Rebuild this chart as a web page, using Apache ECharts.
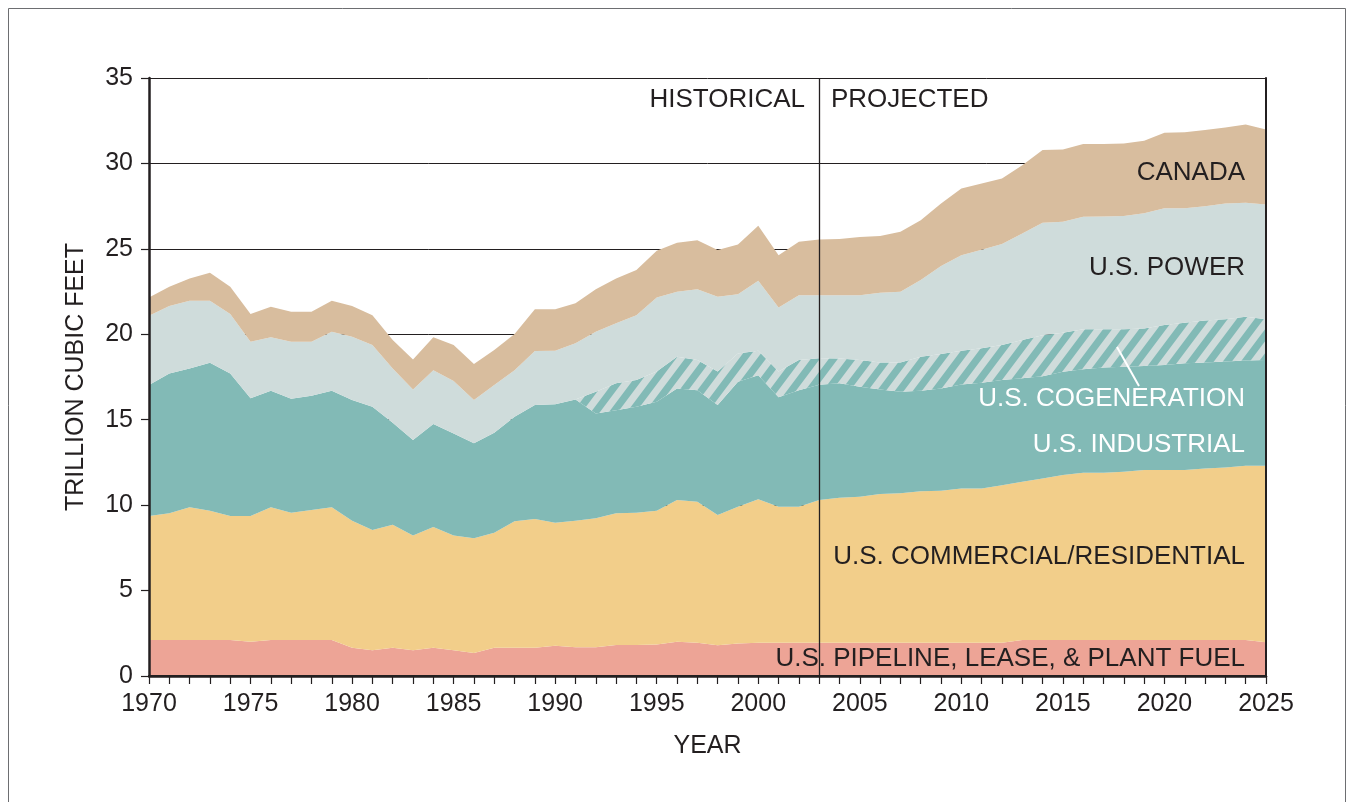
<!DOCTYPE html>
<html>
<head>
<meta charset="utf-8">
<title>Natural gas demand</title>
<script src="https://cdn.jsdelivr.net/npm/echarts@6/dist/echarts.min.js"></script>
<style>
  html, body { margin: 0; padding: 0; background: #fff; }
  #chart { width: 1353px; height: 802px; }
</style>
</head>
<body>
<div id="chart"></div>
<script>
// years on the x axis
const years = ['1970', '1971', '1972', '1973', '1974', '1975', '1976', '1977', '1978', '1979',
  '1980', '1981', '1982', '1983', '1984', '1985', '1986', '1987', '1988', '1989',
  '1990', '1991', '1992', '1993', '1994', '1995', '1996', '1997', '1998', '1999',
  '2000', '2001', '2002', '2003', '2004', '2005', '2006', '2007', '2008', '2009',
  '2010', '2011', '2012', '2013', '2014', '2015', '2016', '2017', '2018', '2019',
  '2020', '2021', '2022', '2023', '2024', '2025'];

// trillion cubic feet, each layer on its own (stacked bottom to top)
const pipelineFuel = [2.1, 2.1, 2.1, 2.1, 2.1, 2.0, 2.1, 2.1, 2.1, 2.1,
  1.65, 1.5, 1.65, 1.5, 1.65, 1.5, 1.35, 1.65, 1.65, 1.65,
  1.77, 1.68, 1.68, 1.81, 1.81, 1.85, 2.0, 1.95, 1.8, 1.9,
  1.95, 1.95, 1.95, 1.95, 1.95, 1.95, 1.95, 1.95, 1.95, 1.95,
  1.95, 1.95, 1.95, 2.1, 2.1, 2.1, 2.1, 2.1, 2.1, 2.1,
  2.1, 2.1, 2.1, 2.1, 2.1, 1.97];
const commercialResidential = [7.26, 7.42, 7.77, 7.57, 7.26, 7.36, 7.77, 7.46, 7.61, 7.77,
  7.44, 7.04, 7.2, 6.73, 7.07, 6.73, 6.71, 6.74, 7.4, 7.54,
  7.2, 7.41, 7.55, 7.71, 7.75, 7.82, 8.3, 8.25, 7.62, 8.01,
  8.39, 7.96, 7.96, 8.35, 8.48, 8.54, 8.7, 8.74, 8.87, 8.89,
  9.03, 9.03, 9.22, 9.27, 9.46, 9.66, 9.8, 9.8, 9.86, 9.95,
  9.95, 9.95, 10.05, 10.1, 10.21, 10.34];
const industrial = [7.67, 8.19, 8.13, 8.67, 8.35, 6.89, 6.83, 6.67, 6.69, 6.83,
  7.06, 7.22, 5.97, 5.58, 6.03, 5.97, 5.56, 5.85, 6.12, 6.67,
  6.93, 7.1, 6.14, 6.04, 6.2, 6.38, 6.53, 6.53, 6.44, 7.31,
  7.26, 6.4, 6.82, 6.75, 6.7, 6.44, 6.12, 5.95, 5.88, 5.99,
  6.08, 6.18, 6.15, 6.05, 5.99, 6.05, 6.05, 6.15, 6.14, 6.09,
  6.15, 6.25, 6.2, 6.2, 6.16, 6.18];
const cogeneration = [0, 0, 0, 0, 0, 0, 0, 0, 0, 0,
  0, 0, 0, 0, 0, 0, 0, 0, 0, 0,
  0, 0, 1.27, 1.57, 1.56, 1.77, 1.86, 1.76, 1.96, 1.66,
  1.44, 1.51, 1.76, 1.55, 1.46, 1.56, 1.58, 1.71, 1.99, 2.01,
  1.98, 2.02, 2.05, 2.24, 2.4, 2.28, 2.34, 2.25, 2.19, 2.2,
  2.34, 2.38, 2.45, 2.48, 2.56, 2.39];
const power = [4.05, 3.94, 3.96, 3.62, 3.47, 3.31, 3.12, 3.33, 3.16, 3.45,
  3.71, 3.61, 3.18, 2.96, 3.15, 3.06, 2.53, 2.79, 2.73, 3.16,
  3.14, 3.28, 3.51, 3.51, 3.8, 4.34, 3.8, 4.14, 4.38, 3.46,
  4.09, 3.75, 3.8, 3.69, 3.7, 3.8, 4.08, 4.14, 4.48, 5.15,
  5.58, 5.77, 5.91, 6.24, 6.58, 6.5, 6.59, 6.6, 6.63, 6.74,
  6.83, 6.69, 6.7, 6.78, 6.67, 6.72];
const canada = [1.08, 1.13, 1.31, 1.64, 1.6, 1.62, 1.79, 1.76, 1.76, 1.81,
  1.79, 1.75, 1.66, 1.76, 1.92, 2.11, 2.11, 2.05, 2.11, 2.44,
  2.42, 2.34, 2.48, 2.63, 2.64, 2.73, 2.87, 2.88, 2.73, 2.92,
  3.22, 3.06, 3.12, 3.26, 3.28, 3.41, 3.32, 3.51, 3.51, 3.67,
  3.91, 3.88, 3.84, 4.0, 4.25, 4.23, 4.25, 4.23, 4.25, 4.25,
  4.43, 4.45, 4.45, 4.44, 4.58, 4.39];

const lastHistoricalYear = '2003';

const INK = '#231f20';
const FONT = 'Liberation Sans, Arial, Helvetica, sans-serif';

// diagonal stripes for the cogeneration layer
function hatchPattern() {
  const c = document.createElement('canvas');
  c.width = 18;
  c.height = 24;
  const g = c.getContext('2d');
  g.fillStyle = '#cfdcdb';
  g.fillRect(0, 0, 18, 24);
  g.fillStyle = '#82bab6';
  [-18, 0, 18].forEach(function (x0) {
    g.beginPath();
    g.moveTo(x0, 24);
    g.lineTo(x0 + 9, 24);
    g.lineTo(x0 + 27, 0);
    g.lineTo(x0 + 18, 0);
    g.closePath();
    g.fill();
  });
  return c;
}

function areaSeries(name, values, color) {
  return {
    name: name,
    type: 'line',
    stack: 'total',
    data: values,
    symbol: 'none',
    silent: true,
    lineStyle: { width: 0, opacity: 0 },
    itemStyle: { color: typeof color === 'string' ? color : '#82bab6' },
    areaStyle: { color: color, opacity: 1 }
  };
}

function label(text, x, y, color, align) {
  return {
    type: 'text',
    x: x,
    y: y,
    z: 100,
    silent: true,
    style: {
      text: text,
      font: '26px ' + FONT,
      fill: color || INK,
      align: align || 'right',
      textAlign: align || 'right',
      verticalAlign: 'middle',
      textVerticalAlign: 'middle'
    }
  };
}

const canadaSeries = areaSeries('CANADA', canada, '#d8bd9e');
canadaSeries.markLine = {
  silent: true,
  symbol: ['none', 'none'],
  label: { show: false },
  lineStyle: { color: INK, width: 1.3, type: 'solid' },
  data: [{ xAxis: lastHistoricalYear }]
};

const xCommon = {
  type: 'category',
  data: years,
  boundaryGap: false
};

const option = {
  animation: false,
  backgroundColor: '#fff',
  grid: { left: 149, right: 87, top: 78, bottom: 126 },
  xAxis: [
    Object.assign({}, xCommon, {
      z: 10,
      name: 'YEAR',
      nameLocation: 'middle',
      nameGap: 58,
      nameTextStyle: { color: INK, fontSize: 25, fontFamily: FONT },
      axisLine: { show: true, lineStyle: { color: INK, width: 2.5 } },
      axisTick: { show: true, interval: 0, length: 8, lineStyle: { color: INK, width: 1.2 } },
      axisLabel: { interval: 4, color: INK, fontSize: 25, fontFamily: FONT, margin: 16 },
      splitLine: { show: false }
    }),
    Object.assign({}, xCommon, {
      position: 'top',
      z: 10,
      axisLine: { show: true, lineStyle: { color: INK, width: 2 } },
      axisTick: { show: false },
      axisLabel: { show: false },
      splitLine: { show: false }
    })
  ],
  yAxis: [
    {
      type: 'value',
      z: 10,
      min: 0,
      max: 35,
      interval: 5,
      name: 'TRILLION CUBIC FEET',
      nameLocation: 'middle',
      nameGap: 60,
      nameTextStyle: { color: INK, fontSize: 25, fontFamily: FONT },
      axisLine: { show: true, lineStyle: { color: INK, width: 2.5 } },
      axisTick: { show: true, length: 8, lineStyle: { color: INK, width: 1.2 } },
      axisLabel: { color: INK, fontSize: 25, fontFamily: FONT, margin: 16 },
      splitLine: { show: false }
    },
    {
      type: 'value',
      position: 'right',
      z: 10,
      min: 0,
      max: 35,
      interval: 5,
      axisLine: { show: true, lineStyle: { color: INK, width: 2 } },
      axisTick: { show: false },
      axisLabel: { show: false },
      splitLine: { show: false }
    },
    {
      // gridlines only, kept beneath the areas
      type: 'value',
      position: 'left',
      min: 0,
      max: 35,
      interval: 5,
      axisLine: { show: false },
      axisTick: { show: false },
      axisLabel: { show: false },
      splitLine: { show: true, lineStyle: { color: INK, width: 1 } }
    }
  ],
  series: [
    areaSeries('U.S. PIPELINE, LEASE, & PLANT FUEL', pipelineFuel, '#eda496'),
    areaSeries('U.S. COMMERCIAL/RESIDENTIAL', commercialResidential, '#f2ce8a'),
    areaSeries('U.S. INDUSTRIAL', industrial, '#82bab6'),
    areaSeries('U.S. COGENERATION', cogeneration, { image: hatchPattern(), repeat: 'repeat' }),
    areaSeries('U.S. POWER', power, '#cfdcdb'),
    canadaSeries
  ],
  graphic: [
    {
      type: 'rect',
      silent: true,
      shape: { x: 8.5, y: 8.5, width: 1337, height: 820 },
      style: { fill: 'none', stroke: '#6d6e71', lineWidth: 1 }
    },
    label('HISTORICAL', 805, 100),
    label('PROJECTED', 831, 100, INK, 'left'),
    label('CANADA', 1245, 173),
    label('U.S. POWER', 1245, 268),
    label('U.S. COGENERATION', 1245, 399, '#ffffff'),
    label('U.S. INDUSTRIAL', 1245, 445, '#ffffff'),
    label('U.S. COMMERCIAL/RESIDENTIAL', 1245, 557),
    label('U.S. PIPELINE, LEASE, & PLANT FUEL', 1245, 659),
    {
      type: 'line',
      silent: true,
      z: 100,
      shape: { x1: 1117, y1: 347, x2: 1139, y2: 386 },
      style: { stroke: '#ffffff', lineWidth: 2 }
    }
  ]
};

const chart = echarts.init(document.getElementById('chart'), null, { renderer: 'canvas' });
chart.setOption(option);
</script>
</body>
</html>
